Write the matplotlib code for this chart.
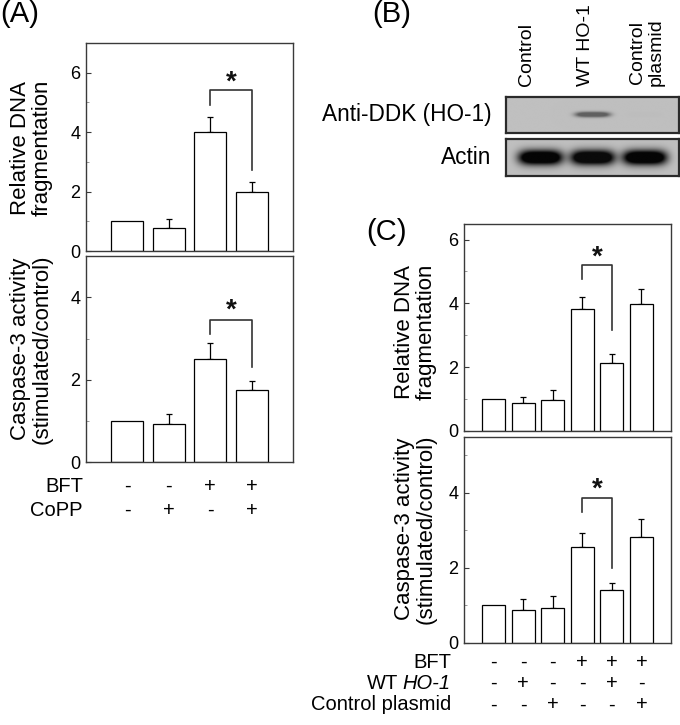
import numpy as np
import matplotlib
matplotlib.use("Agg")
import matplotlib.pyplot as plt
from matplotlib.ticker import MultipleLocator

plt.rcParams['font.family'] = ['Liberation Sans', 'DejaVu Sans']

# ---------------- data ----------------
# Panel A
a_bft = ['-', '-', '+', '+']
a_copp = ['-', '+', '-', '+']
a_dna_mean = [1.0, 0.79, 3.99, 1.99]
a_dna_err = [0.0, 0.29, 0.51, 0.33]
a_casp_mean = [1.0, 0.94, 2.51, 1.76]
a_casp_err = [0.0, 0.22, 0.37, 0.21]
a_dna_bracket = [4.9, 5.42, 2.72, 6.0]    # left leg end, top, right leg end, star
a_casp_bracket = [3.1, 3.45, 2.31, 3.9]

# Panel C
c_bft = ['-', '-', '-', '+', '+', '+']
c_wt = ['-', '+', '-', '-', '+', '-']
c_ctrl = ['-', '-', '+', '-', '-', '+']
c_dna_mean = [1.0, 0.86, 0.97, 3.83, 2.14, 3.97]
c_dna_err = [0.0, 0.21, 0.31, 0.37, 0.27, 0.48]
c_casp_mean = [1.0, 0.86, 0.92, 2.55, 1.40, 2.82]
c_casp_err = [0.0, 0.31, 0.34, 0.38, 0.20, 0.48]
c_dna_bracket = [4.76, 5.2, 3.17, 5.74]
c_casp_bracket = [3.48, 3.86, 2.0, 4.35]

# Panel B (western blot)
blot_lanes = ['Control', 'WT HO-1', 'Control\nplasmid']
ddk_intensity = [0.0, 0.75, 0.02]
actin_intensity = [1.0, 0.97, 1.0]

W, H = 680, 725
fig = plt.figure(figsize=(W / 100, H / 100), dpi=100)


def px_axes(left, top, right, bottom):
    return fig.add_axes([left / W, 1 - bottom / H, (right - left) / W, (bottom - top) / H])


SPINE = '#3a3a3a'
STAR_FS = 20


def bar_panel(ax, means, errs, ylim, bracket, pair):
    n = len(means)
    x = np.arange(1, n + 1)
    ax.bar(x, means, width=0.77, color='white', edgecolor='black', linewidth=0.9, zorder=2)
    errs = np.asarray(errs)
    m = errs > 0
    ax.errorbar(x[m], np.asarray(means)[m], yerr=[np.zeros(m.sum()), errs[m]], fmt='none',
                ecolor='black', elinewidth=0.9, capsize=2.5, capthick=0.9, zorder=1)
    ax.set_xlim(0, n + 1)
    ax.set_ylim(*ylim)
    ax.set_xticks([])
    ax.yaxis.set_major_locator(MultipleLocator(2))
    ax.yaxis.set_minor_locator(MultipleLocator(1))
    ax.tick_params(axis='y', which='major', direction='in', length=3.5, width=0.8,
                   labelsize=13, pad=4, color=SPINE)
    ax.tick_params(axis='y', which='minor', direction='in', length=2, width=0.6, color='#888888')
    for s in ax.spines.values():
        s.set_color(SPINE)
        s.set_linewidth(1.0)
    x1, x2 = pair
    lb, top, rb, star = bracket
    ax.plot([x1, x1, x2, x2], [lb, top, top, rb], color='#333333', lw=1.2, zorder=3)
    ax.annotate('*', xy=((x1 + x2) / 2, star), xytext=(0, -0.6 * STAR_FS),
                textcoords='offset points', ha='center', va='baseline', fontsize=STAR_FS,
                fontweight='bold', color='#111111')


# ---------------- Panel A ----------------
axA1 = px_axes(86, 43, 293, 251)
bar_panel(axA1, a_dna_mean, a_dna_err, (0, 7), a_dna_bracket, (3, 4))
axA2 = px_axes(86, 256, 293, 462.3)
bar_panel(axA2, a_casp_mean, a_casp_err, (0, 5), a_casp_bracket, (3, 4))

YL_FS = 16
fig.text(31 / W, 1 - 148 / H, 'Relative DNA\nfragmentation', rotation=90, ha='center',
         va='center', fontsize=YL_FS, linespacing=1.05)
fig.text(31 / W, 1 - 349 / H, 'Caspase-3 activity\n(stimulated/control)', rotation=90,
         ha='center', va='center', fontsize=YL_FS, linespacing=1.05)

ROW_FS = 14.5
tA = axA2.get_xaxis_transform()
rowsA = [('BFT', a_bft, 486), ('CoPP', a_copp, 510)]
for lab, signs, ypx in rowsA:
    yax = (462.3 - ypx) / 206.3
    axA2.text(-0.015, yax, lab, transform=axA2.transAxes, ha='right', va='center', fontsize=ROW_FS)
    for i, s in enumerate(signs):
        axA2.text(i + 1, yax, s, transform=tA, ha='center', va='center', fontsize=ROW_FS)

fig.text(20 / W, 1 - 14 / H, '(A)', ha='center', va='center', fontsize=21)

# ---------------- Panel C ----------------
axC1 = px_axes(464, 223.7, 671, 430.7)
bar_panel(axC1, c_dna_mean, c_dna_err, (0, 6.5), c_dna_bracket, (4, 5))
axC2 = px_axes(464, 436.7, 671, 642.7)
bar_panel(axC2, c_casp_mean, c_casp_err, (0, 5.5), c_casp_bracket, (4, 5))

fig.text(415 / W, 1 - 332 / H, 'Relative DNA\nfragmentation', rotation=90, ha='center',
         va='center', fontsize=YL_FS, linespacing=1.05)
fig.text(415 / W, 1 - 529 / H, 'Caspase-3 activity\n(stimulated/control)', rotation=90,
         ha='center', va='center', fontsize=YL_FS, linespacing=1.05)

tC = axC2.get_xaxis_transform()
rowsC = [('BFT', c_bft, 662.7), ('WT HO-1', c_wt, 683.3), ('Control plasmid', c_ctrl, 705)]
XR = -0.063
italic_part = None
for lab, signs, ypx in rowsC:
    yax = (642.7 - ypx) / 206.0
    if lab.startswith('WT'):
        italic_part = axC2.text(XR, yax, lab[3:], transform=axC2.transAxes, ha='right',
                                va='center', fontsize=ROW_FS, style='italic')
        wt_y = yax
    else:
        axC2.text(XR, yax, lab, transform=axC2.transAxes, ha='right', va='center', fontsize=ROW_FS)
    for i, s in enumerate(signs):
        axC2.text(i + 1, yax, s, transform=tC, ha='center', va='center', fontsize=ROW_FS)

# place "WT " just left of the italic "HO-1"
renderer = fig.canvas.get_renderer()
bb = italic_part.get_window_extent(renderer)
x_left_ax = axC2.transAxes.inverted().transform((bb.x0, bb.y0))[0]
axC2.text(x_left_ax - 0.02, wt_y, 'WT', transform=axC2.transAxes, ha='right', va='center',
          fontsize=ROW_FS)

fig.text(387 / W, 1 - 232 / H, '(C)', ha='center', va='center', fontsize=21)

# ---------------- Panel B (blot) ----------------
BG = 0.75


def blot(ax, intens, wx, wy, yc, dark):
    nx, ny = 400, 90
    xs = np.linspace(-0.16, 3.17, nx)
    ys = np.linspace(0, 1, ny)
    X, Y = np.meshgrid(xs, ys)
    img = np.full_like(X, BG)
    for i, a in enumerate(intens):
        xc = i + 0.5
        band = np.exp(-np.abs((X - xc) / wx) ** 4) * np.exp(-((Y - yc) / wy) ** 2)
        img -= a * (BG - dark) * np.clip(band * 1.6, 0, 1)
    ax.imshow(img, cmap='gray', vmin=0, vmax=1, extent=(-0.16, 3.17, 0, 1),
              origin='lower', aspect='auto', interpolation='bilinear')
    ax.set_xlim(-0.16, 3.17)
    ax.set_ylim(0, 1)
    ax.set_xticks([])
    ax.set_yticks([])
    for s in ax.spines.values():
        s.set_color('#2a2a2a')
        s.set_linewidth(1.6)


axB1 = px_axes(505.7, 96.7, 679, 133)
blot(axB1, ddk_intensity, 0.33, 0.07, 0.5, 0.25)
axB2 = px_axes(505.7, 139.3, 679, 175.7)
blot(axB2, actin_intensity, 0.42, 0.2, 0.5, 0.02)

lane_px = [526.7, 585, 647]
for lab, xp in zip(blot_lanes, lane_px):
    fig.text(xp / W, 1 - 86 / H, lab, rotation=90, ha='center', va='bottom', fontsize=14,
             linespacing=1.1)

fig.text(491.7 / W, 1 - 115 / H, 'Anti-DDK (HO-1)', ha='right', va='center', fontsize=16.3)
fig.text(491.7 / W, 1 - 157 / H, 'Actin', ha='right', va='center', fontsize=16.3)
fig.text(392 / W, 1 - 14 / H, '(B)', ha='center', va='center', fontsize=21)

fig.savefig('out.png', dpi=100)
